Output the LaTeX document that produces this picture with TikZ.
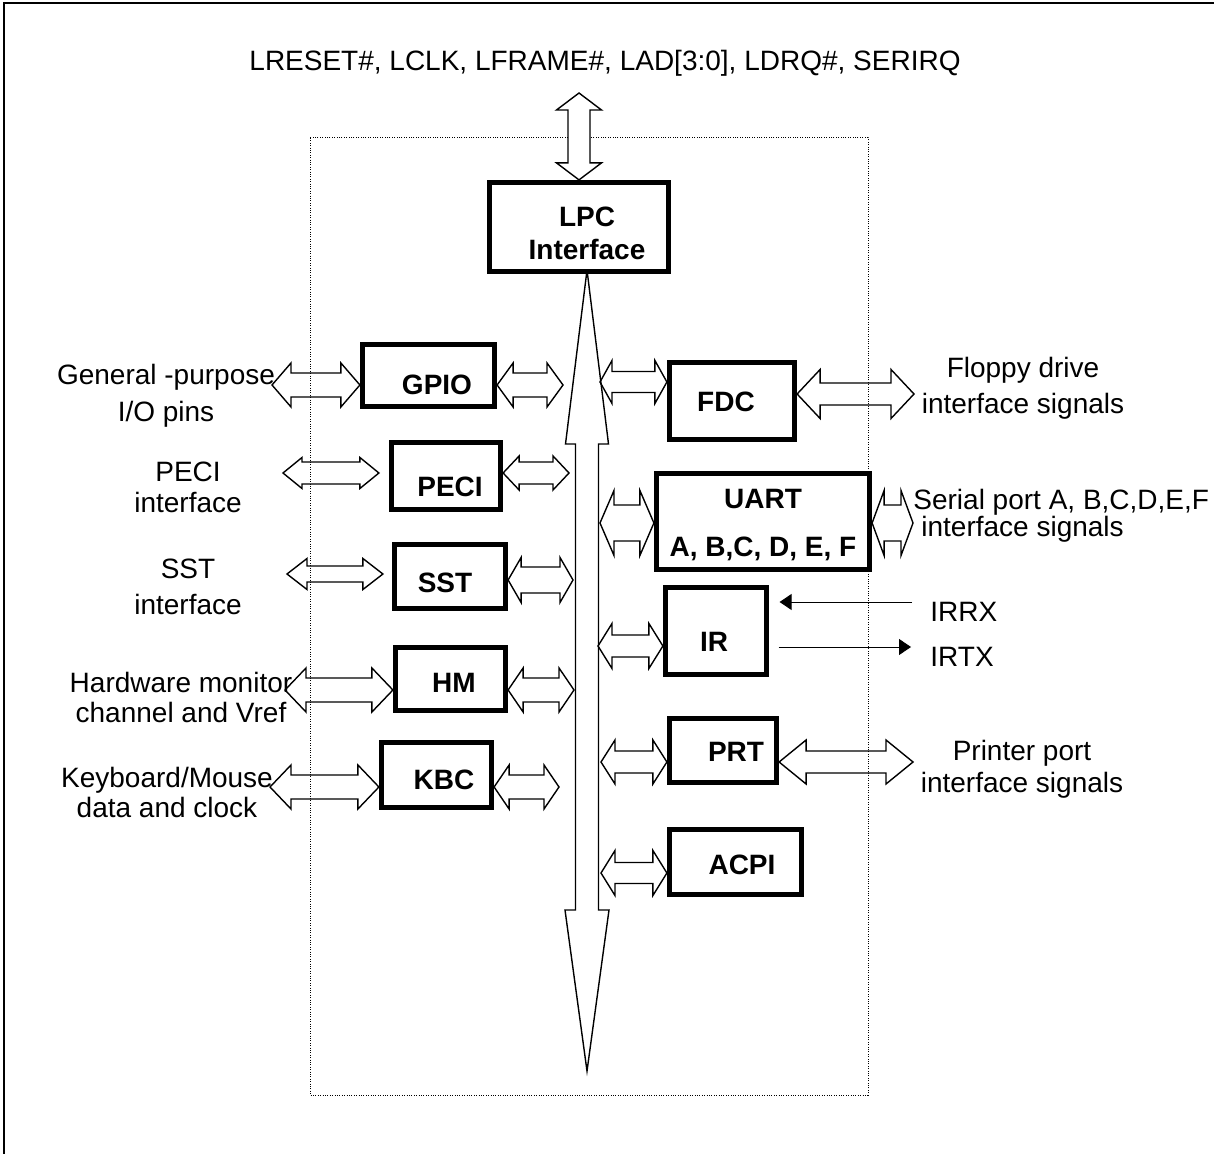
\documentclass[tikz,border=0pt]{standalone}
\usepackage{fontspec}
\setmainfont{Liberation Sans}
\usetikzlibrary{calc,arrows.meta}

\tikzset{
  blk/.style={draw, line width=2.6pt, fill=white, inner sep=0pt},
  blbl/.style={font=\fontsize{14}{#1}\selectfont\bfseries, align=center, inner sep=0pt},
  blbl/.default=16.5pt,
  txt/.style={font=\fontsize{14}{#1}\selectfont, align=center, inner sep=0pt},
  txt/.default=15.5pt,
  % outline double arrow, left to right: head half height, shaft half height, head length
  fatarrow/.style n args={3}{draw, line width=0.7pt, line join=miter,
    to path={let \p1=(\tikztostart), \p2=(\tikztotarget) in
      (\x1,\y1) -- (\x1+#3,\y1+#1) -- (\x1+#3,\y1+#2) -- (\x2-#3,\y1+#2) -- (\x2-#3,\y1+#1)
      -- (\x2,\y1) -- (\x2-#3,\y1-#1) -- (\x2-#3,\y1-#2) -- (\x1+#3,\y1-#2) -- (\x1+#3,\y1-#1) -- cycle}},
  % same, top to bottom
  fatvarrow/.style n args={3}{draw, line width=0.7pt, line join=miter,
    to path={let \p1=(\tikztostart), \p2=(\tikztotarget) in
      (\x1,\y1) -- (\x1+#1,\y1-#3) -- (\x1+#2,\y1-#3) -- (\x1+#2,\y2+#3) -- (\x1+#1,\y2+#3)
      -- (\x1,\y2) -- (\x1-#1,\y2+#3) -- (\x1-#2,\y2+#3) -- (\x1-#2,\y1-#3) -- (\x1-#1,\y1-#3) -- cycle}},
  sig/.style={line width=0.5pt, -{Triangle[length=6pt,width=8pt]}},
}

\begin{document}
\begin{tikzpicture}[x=0.5pt,y=-0.5pt]
\useasboundingbox (0,0) rectangle (1214,1154);

% frame and chip outline
\draw[line width=1pt] (4,1154) -- (4,3) -- (1214,3);
\draw[line width=0.5pt, dash pattern=on 0.5pt off 0.7pt] (310,138) rectangle (868,1095);

% internal bus
\draw[line width=0.7pt, line join=miter] (587,270) -- (608.5,444) -- (598.5,444) -- (598.5,910)
  -- (609,910) -- (587,1071) -- (565,910) -- (575.5,910) -- (575.5,444) -- (565.5,444) -- cycle;

% blocks
\node[blk, minimum width=89.5pt, minimum height=44.5pt] (lpc) at (579,227) {};
\node[blk, minimum width=66pt, minimum height=31pt] (gpio) at (428.5,375.5) {};
\node[blk, minimum width=54.5pt, minimum height=33.5pt] (peci) at (446,476) {};
\node[blk, minimum width=55.5pt, minimum height=32pt] (sst) at (450,576.5) {};
\node[blk, minimum width=55pt, minimum height=31.5pt] (hm) at (450.5,679) {};
\node[blk, minimum width=55pt, minimum height=32.5pt] (kbc) at (436.5,775) {};
\node[blk, minimum width=62.5pt, minimum height=38.5pt] (fdc) at (732,401) {};
\node[blk, minimum width=106.5pt, minimum height=48pt] (uart) at (763,521.5) {};
\node[blk, minimum width=50.5pt, minimum height=43.5pt] (ir) at (716,631) {};
\node[blk, minimum width=53.5pt, minimum height=32pt] (prt) at (723,750.5) {};
\node[blk, minimum width=66pt, minimum height=32.5pt] (acpi) at (735.5,862) {};

\node[blbl] (lpct) at (587,233.5) {LPC\\Interface};
\node[blbl] (gpiot) at (437,385) {GPIO};
\node[blbl] (pecit) at (450,487) {PECI};
\node[blbl] (sstt) at (445,583) {SST};
\node[blbl] (hmt) at (454,683) {HM};
\node[blbl] (kbct) at (444,780) {KBC};
\node[blbl] (fdct) at (726,402) {FDC};
\node[blbl=24pt] (uartt) at (763,525) {UART\\A, B,C, D, E, F};
\node[blbl] (irt) at (714,642) {IR};
\node[blbl] (prtt) at (736,752) {PRT};
\node[blbl] (acpit) at (742,865) {ACPI};

% outside signals
\node[txt] (lpcsig) at (605,63) {LRESET\#, LCLK, LFRAME\#, LAD[3:0], LDRQ\#, SERIRQ};
\node[txt=18.5pt] (gpiosig) at (166,396) {General -purpose\\I/O pins};
\node[txt] (pecisig) at (188,487) {PECI\\interface};
\node[txt=18pt] (sstsig) at (188,587) {SST\\interface};
\node[txt=15pt] (hmsig) at (181,697) {Hardware monitor\\channel and Vref};
\node[txt=15pt] (kbcsig) at (167,792) {Keyboard/Mouse\\data and clock};
\node[txt=18pt] (fdcsig) at (1023,388) {Floppy drive\\interface signals};
\node[txt=13.5pt, align=left, anchor=west] (uartsig) at (913,516) {Serial port A, B,C,D,E,F\\\hspace*{4pt}interface signals};
\node[txt=16pt] (prtsig) at (1022,769) {Printer port\\interface signals};
\node[txt, anchor=west] (irrx) at (930,612) {IRRX};
\node[txt, anchor=west] (irtx) at (930,657) {IRTX};

% LPC host link
\coordinate (lpcin) at (579,93);
\draw[fatvarrow={11.25pt}{5.5pt}{8.5pt}, fill=white] (lpcin) to (lpc.north);

% left side
\coordinate (gpioL) at (272,385);
\coordinate (gpioR) at (563,385);
\draw[fatarrow={11pt}{6pt}{9.5pt}] (gpioL) to (gpio.west |- gpioL);
\draw[fatarrow={11pt}{6pt}{8pt}] (gpio.east |- gpioR) to (gpioR);
\coordinate (peciL) at (283,473);
\coordinate (peciR) at (569,473);
\draw[fatarrow={7.75pt}{5.5pt}{9.5pt}] (peciL) to ([xshift=-5pt]peci.west |- peciL);
\draw[fatarrow={8.5pt}{5.5pt}{8pt}] (peci.east |- peciR) to (peciR);
\coordinate (sstL) at (287,574);
\coordinate (sstR) at (573,580);
\draw[fatarrow={7.75pt}{4pt}{10pt}] (sstL) to ([xshift=-4.5pt]sst.west |- sstL);
\draw[fatarrow={11.25pt}{6.5pt}{6.5pt}] (sst.east |- sstR) to (sstR);
\coordinate (hmL) at (285,690);
\coordinate (hmR) at (574,690);
\draw[fatarrow={11pt}{6pt}{10.5pt}] (hmL) to (hm.west |- hmL);
\draw[fatarrow={11pt}{6pt}{7.5pt}] (hm.east |- hmR) to (hmR);
\coordinate (kbcL) at (270,787);
\coordinate (kbcR) at (559,787);
\draw[fatarrow={11pt}{6pt}{10.5pt}] (kbcL) to (kbc.west |- kbcL);
\draw[fatarrow={11pt}{6pt}{7.5pt}] (kbc.east |- kbcR) to (kbcR);

% right side
\coordinate (fdcL) at (600,382);
\coordinate (fdcR) at (914,394);
\draw[fatarrow={10.75pt}{5.25pt}{6pt}] (fdcL) to (fdc.west |- fdcL);
\draw[fatarrow={12.25pt}{5.5pt}{11.5pt}] (fdc.east |- fdcR) to (fdcR);
\coordinate (uartL) at (600,523);
\coordinate (uartR) at (913,523);
\draw[fatarrow={16.25pt}{9pt}{7pt}] (uartL) to (uart.west |- uartL);
\draw[fatarrow={16.25pt}{9pt}{6pt}] (uart.east |- uartR) to (uartR);
\coordinate (irL) at (598,646);
\draw[fatarrow={11.25pt}{5.5pt}{7pt}] (irL) to (ir.west |- irL);
\coordinate (rxin) at (912,602);
\coordinate (txout) at (911,647);
\draw[sig] (rxin) -- ([xshift=5.25pt]ir.east |- rxin);
\draw[sig] ([xshift=4.75pt]ir.east |- txout) -- (txout);
\coordinate (prtL) at (601,762);
\coordinate (prtR) at (913,762);
\draw[fatarrow={11pt}{5.5pt}{7pt}] (prtL) to (prt.west |- prtL);
\draw[fatarrow={11pt}{5.5pt}{13.5pt}] (prt.east |- prtR) to (prtR);
\coordinate (acpiL) at (601,873);
\draw[fatarrow={11.25pt}{5.25pt}{7pt}] (acpiL) to (acpi.west |- acpiL);
\end{tikzpicture}
\end{document}
